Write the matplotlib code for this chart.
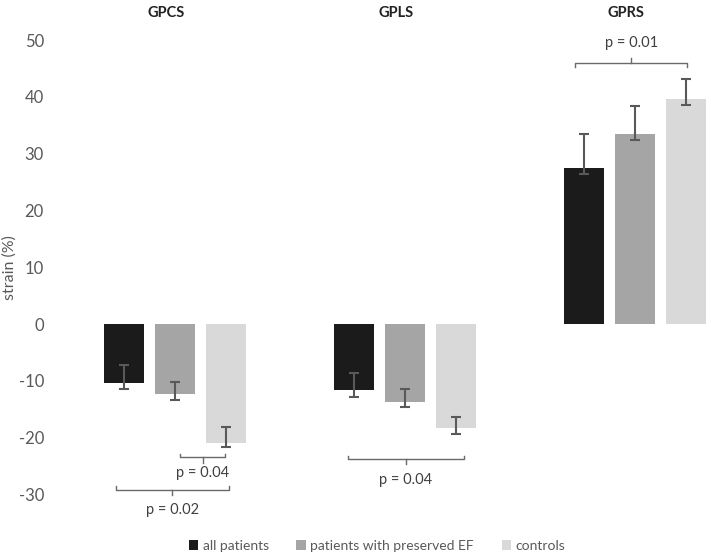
import numpy as np
import matplotlib.pyplot as plt

plt.rcParams['font.family'] = ['Lato', 'DejaVu Sans']

groups = ["GPCS", "GPLS", "GPRS"]
series = ["all patients", "patients with preserved EF", "controls"]
colors = ["#1b1b1b", "#a5a5a5", "#d9d9d9"]

# mean strain per group for each series
all_pat = [-10.4, -11.7, 27.5]
preserved = [-12.4, -13.7, 33.4]
controls = [-20.9, -18.4, 39.7]

# error bar ends (upper end, lower end)
all_hi = [-7.3, -8.6, 33.4]
all_lo = [-11.5, -12.85, 26.4]
pres_hi = [-10.15, -11.5, 38.4]
pres_lo = [-13.4, -14.7, 32.4]
ctrl_hi = [-18.2, -16.4, 43.1]
ctrl_lo = [-21.7, -19.4, 38.6]

yticks = [-30, -20, -10, 0, 10, 20, 30, 40, 50]

fig = plt.figure(figsize=(7.11, 5.57), dpi=100)
ax = fig.add_axes([55/711, 1-525/557, 656/711, 495/557])

x = np.arange(len(groups))
offs = [-0.224, 0.0, 0.222]
w = 0.174
means = [all_pat, preserved, controls]
his = [all_hi, pres_hi, ctrl_hi]
los = [all_lo, pres_lo, ctrl_lo]
for i in range(3):
    m = np.array(means[i])
    yerr = [m - np.array(los[i]), np.array(his[i]) - m]
    ax.bar(x + offs[i], m, w, color=colors[i], label=series[i])
    ax.errorbar(x + offs[i], m, yerr=yerr, fmt='none', ecolor='#595959',
                elinewidth=1.5, capsize=3.5, capthick=1.5)

ax.set_xlim(-0.522, 2.33)
ax.set_ylim(-35.4, 51.8)
ax.set_yticks(yticks)
ax.set_yticklabels([str(t) for t in yticks], color='#595959', fontsize=12)
ax.tick_params(axis='y', length=0, pad=8)
ax.set_xticks([])
for s in ax.spines.values():
    s.set_visible(False)
ax.set_ylabel("strain (%)", color='#595959', fontsize=11.5)
ax.yaxis.set_label_coords(-0.058, 0.521)

for i, g in enumerate(groups):
    ax.text(x[i] - 0.04, 1.035, g, transform=ax.get_xaxis_transform(),
            ha='center', va='center', fontsize=10.5, fontweight='bold', color='#222222')


def bracket(x0, x1, y, up=True, txt="", ty=0):
    h = 0.6 if up else -0.6
    c = '#6a6a6a'
    ax.plot([x0, x0, x1, x1], [y + h, y, y, y + h], color=c, lw=1)
    xm = (x0 + x1) / 2
    ax.plot([xm, xm], [y, y - h * 1.5], color=c, lw=1)
    ax.text(xm, ty, txt, ha='center', va='center', fontsize=10.5, color='#404040')


bracket(0.022, 0.218, -23.5, True, "p = 0.04", -26.2)
bracket(-0.258, 0.235, -29.2, True, "p = 0.02", -32.7)
bracket(1 - 0.248, 1 + 0.256, -23.8, True, "p = 0.04", -27.5)
bracket(2 - 0.26, 2 + 0.226, 45.9, False, "p = 0.01", 49.5)

leg = fig.legend(loc='center', bbox_to_anchor=(377/711, 1-546/557), ncol=3,
                 frameon=False, handlelength=0.7, handleheight=0.7,
                 handletextpad=0.3, columnspacing=2.0, fontsize=10)
for t in leg.get_texts():
    t.set_color('#595959')

fig.savefig("out.png", dpi=100)
